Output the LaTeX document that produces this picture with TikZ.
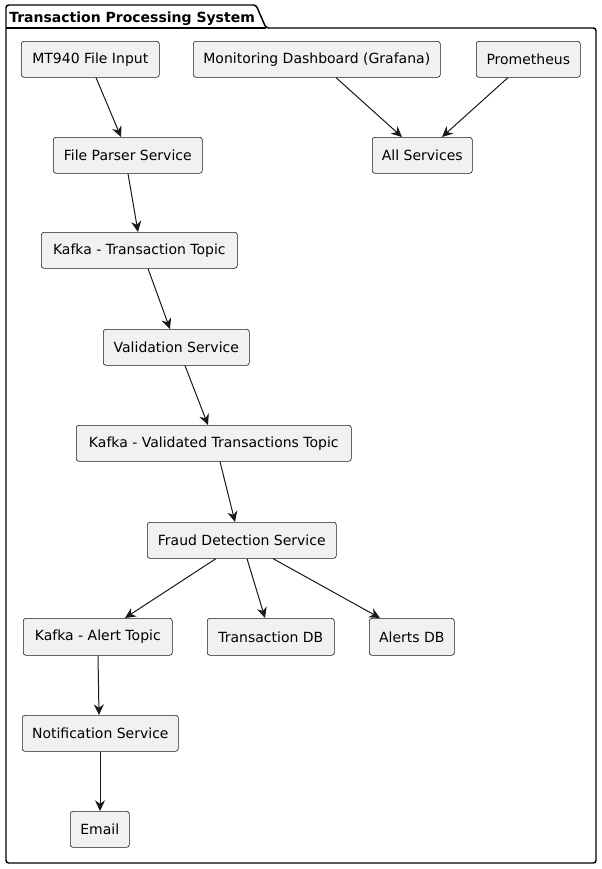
\documentclass[tikz,border=0pt]{standalone}
\usepackage{fontspec}
\setmainfont{DejaVu Sans}
\usetikzlibrary{arrows.meta}
\definecolor{boxfill}{HTML}{F1F1F1}
\definecolor{ink}{HTML}{181818}
\tikzset{
  box/.style={draw=ink, fill=boxfill, line width=0.45pt, rounded corners=2pt, anchor=north west, inner sep=0pt, font=\fontsize{10.5pt}{12pt}\selectfont, text=black},
  arr/.style={draw=ink, line width=0.75pt, -{Stealth[length=8pt,width=7.5pt,inset=2.6pt]}},
  frame/.style={draw=black, line width=1.1pt, rounded corners=2pt}
}
\newcommand{\bx}[6]{\node[box, minimum width=#4*0.75pt, minimum height=#5*0.75pt] (#1) at (#2,#3) {#6};}
\begin{document}
\begin{tikzpicture}[x=0.75pt,y=-0.75pt]
\useasboundingbox (0,0) rectangle (602,869);
\draw[frame] (6,863) -- (6,5) -- (256,5) -- (266,28) -- (596,28) -- (596,863) -- cycle;
\draw[frame] (6,28) -- (266,28);
\node[anchor=base west, inner sep=0pt, font=\fontsize{10.5pt}{12pt}\selectfont\bfseries] (title) at (9,22) {Transaction Processing System};

\bx{mt}{21}{41}{138}{36}{MT940 File Input}
\bx{mon}{193}{41}{247}{36}{Monitoring Dashboard (Grafana)}
\bx{prom}{476}{41}{104}{36}{Prometheus}
\bx{all}{372}{137}{100}{36}{All Services}
\bx{fp}{53}{137}{149}{36}{File Parser Service}
\bx{kt}{41}{232}{196}{36}{Kafka - Transaction Topic}
\bx{val}{103}{329}{146}{36}{Validation Service}
\bx{kv}{76}{425}{275}{36}{Kafka - Validated Transactions Topic}
\bx{fd}{147}{522}{189}{36}{Fraud Detection Service}
\bx{ka}{23}{618}{149}{37}{Kafka - Alert Topic}
\bx{tdb}{207}{618}{127}{37}{Transaction DB}
\bx{adb}{369}{618}{85}{37}{Alerts DB}
\bx{ns}{22}{715}{156}{36}{Notification Service}
\bx{em}{70}{811}{59}{36}{Email}

\draw[arr] ([xshift=75*0.75pt]mt.south west) -- ([xshift=68*0.75pt]fp.north west);
\draw[arr] ([xshift=143*0.75pt]mon.south west) -- ([xshift=30*0.75pt]all.north west);
\draw[arr] ([xshift=32*0.75pt]prom.south west) -- ([xshift=70*0.75pt]all.north west);
\draw[arr] ([xshift=75*0.75pt]fp.south west) -- ([xshift=97*0.75pt]kt.north west);
\draw[arr] ([xshift=107*0.75pt]kt.south west) -- ([xshift=67*0.75pt]val.north west);
\draw[arr] ([xshift=82*0.75pt]val.south west) -- ([xshift=132*0.75pt]kv.north west);
\draw[arr] ([xshift=144*0.75pt]kv.south west) -- ([xshift=88*0.75pt]fd.north west);
\draw[arr] ([xshift=69*0.75pt]fd.south west) -- ([xshift=102*0.75pt]ka.north west);
\draw[arr] ([xshift=100*0.75pt]fd.south west) -- ([xshift=58*0.75pt]tdb.north west);
\draw[arr] ([xshift=126*0.75pt]fd.south west) -- ([xshift=11*0.75pt]adb.north west);
\draw[arr] ([xshift=75*0.75pt]ka.south west) -- ([xshift=77*0.75pt]ns.north west);
\draw[arr] ([xshift=78*0.75pt]ns.south west) -- ([xshift=30*0.75pt]em.north west);
\end{tikzpicture}
\end{document}
